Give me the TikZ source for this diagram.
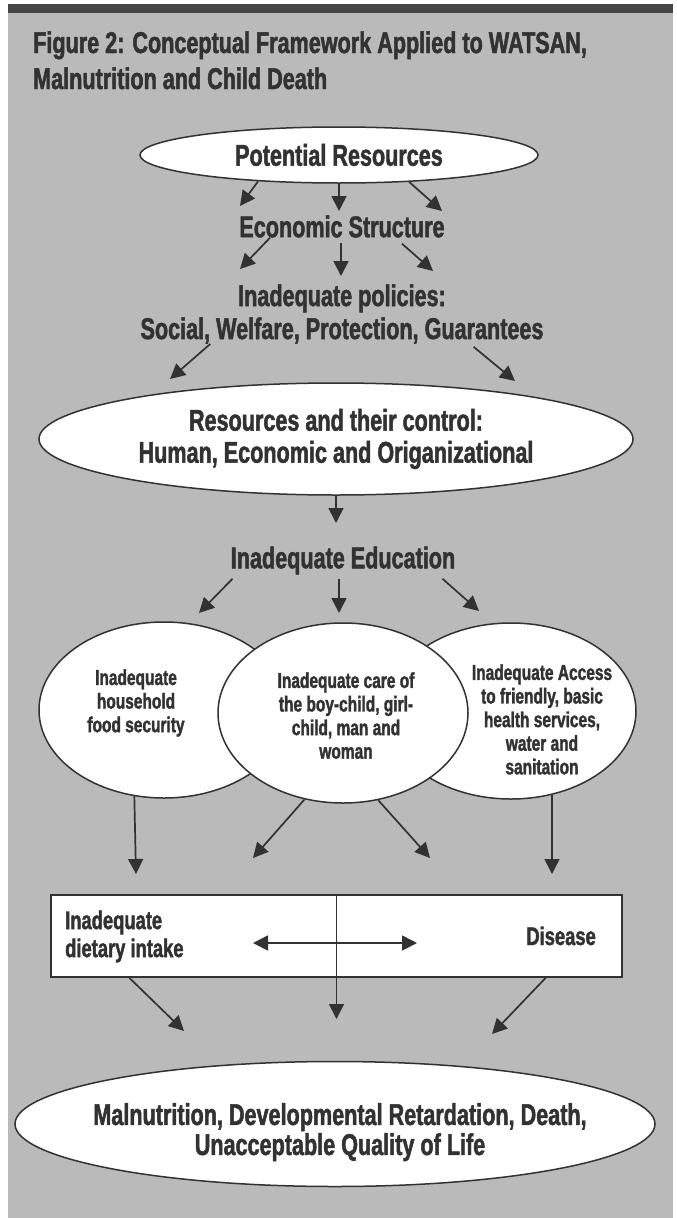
\documentclass[tikz,border=0pt]{standalone}
\usepackage{fontspec}
\newfontfamily\cf[FakeStretch=0.72,FakeBold=1.6]{Liberation Sans}
\usetikzlibrary{arrows.meta,shapes.geometric,calc}
\definecolor{bgc}{RGB}{186,186,186}
\definecolor{barc}{RGB}{70,70,70}
\definecolor{inkc}{RGB}{50,50,50}
\newcommand\myfs[2]{\fontsize{#1}{#2}\selectfont}
\tikzset{
  txt/.style={font=\cf\bfseries, text=inkc, inner sep=0pt, align=center},
  big/.style={font=\cf\bfseries\myfs{30}{33}},
  small/.style={font=\cf\bfseries\myfs{21.5}{23.6}},
  oval/.style={ellipse, draw=inkc, fill=white, line width=1.5pt, inner sep=0pt},
  arr/.style={draw=inkc, line width=1.7pt, -{Triangle[length=15pt,width=15pt]}},
  darr/.style={draw=inkc, line width=1.7pt, {Triangle[length=15pt,width=15pt]}-{Triangle[length=15pt,width=15pt]}},
}
\begin{document}
\begin{tikzpicture}[x=1pt,y=-1pt]
\useasboundingbox (0,0) rectangle (677,1218);
\fill[white] (0,0) rectangle (677,1218);
\fill[bgc] (8,4) rectangle (673,1218);
\fill[barc] (8,4) rectangle (673,13);

% title
\node[txt, big, anchor=base west] (title1) at (33,53) {Figure 2: Conceptual Framework Applied to WATSAN,};
\node[txt, big, anchor=base west] (title2) at (33,89) {Malnutrition and Child Death};

% top chain
\node[oval, minimum width=398pt, minimum height=56pt, txt, big] (pr) at (339,155) {Potential Resources};
\node[txt, big] (es) at (342,226.5) {Economic Structure};
\node[txt, big] (pol) at (342,314) {Inadequate policies:\\Social, Welfare, Protection, Guarantees};
\node[oval, minimum width=594pt, minimum height=112pt, txt, font=\cf\bfseries\myfs{30}{32}] (res) at (336,439) {Resources and their control:\\Human, Economic and Origanizational};
\node[txt, big] (edu) at (343,560.5) {Inadequate Education};

% three circles
\node[oval, minimum width=250pt, minimum height=176pt] (c1) at (164,710) {};
\node[oval, minimum width=250pt, minimum height=176pt] (c3) at (511,711) {};
\node[txt, small] (t1) at (136,703) {Inadequate\\household\\food security};
\node[txt, small] (t3) at (542,719.4) {Inadequate Access\\to friendly, basic\\health services,\\water and\\sanitation};
\node[oval, minimum width=250pt, minimum height=180pt] (c2) at (343,713) {};
\node[txt, small] (t2) at (346,715.6) {Inadequate care of\\the boy-child, girl-\\child, man and\\woman};

% box
\node[draw=inkc, fill=white, line width=1.5pt, minimum width=571pt, minimum height=82pt, inner sep=0pt] (box) at (336.5,936) {};
\node[txt, font=\cf\bfseries\myfs{25.5}{28}, align=left, anchor=north west] (diet) at (65,910.4) {Inadequate\\dietary intake};
\node[txt, font=\cf\bfseries\myfs{25.5}{28}, anchor=base east] (dis) at (596,945) {Disease};

% final
\node[oval, minimum width=640pt, minimum height=125pt] (fin) at (335,1124) {};
\node[txt, font=\cf\bfseries\myfs{30}{30}] (fint) at (340,1132.2) {Malnutrition, Developmental Retardation, Death,\\Unacceptable Quality of Life};

% free arrow ends
\coordinate (a1) at (240,206);
\coordinate (a2) at (339,211);
\coordinate (a3) at (442,211);
\coordinate (b1) at (240,269);
\coordinate (b2) at (341,276);
\coordinate (b3) at (433,271);
\coordinate (p1) at (170,379);
\coordinate (p2) at (515,381);
\coordinate (r1) at (336,523);
\coordinate (e1) at (199,613);
\coordinate (e2) at (339,613);
\coordinate (e3) at (479,611);
\coordinate (k1) at (136,874);
\coordinate (k2) at (253,858);
\coordinate (k3) at (430,858);
\coordinate (k4) at (552,874);
\coordinate (dl) at (253,943);
\coordinate (dr) at (417,943);
\coordinate (m1) at (184,1031);
\coordinate (m2) at (336.5,1019);
\coordinate (m3) at (492,1034);

% arrows
\draw[arr] (pr.198.9) -- (a1);
\draw[arr] (pr.south) -- (a2);
\draw[arr] (pr.339.2) -- (a3);
\draw[arr] ($(es.south)+(-72,0)$) -- (b1);
\draw[arr] ($(es.south)+(-1,5)$) -- (b2);
\draw[arr] ($(es.south)+(60,6)$) -- (b3);
\draw[arr] ($(pol.south west)+(70,0)$) -- (p1);
\draw[arr] ($(pol.south east)+(-70,3)$) -- (p2);
\draw[arr] (res.south) -- (r1);
\draw[arr] ($(edu.south west)+(2,4)$) -- (e1);
\draw[arr] ($(edu.south)+(-4,4)$) -- (e2);
\draw[arr] ($(edu.south east)+(-13,4)$) -- (e3);
\draw[arr] (c1.251.9) -- (k1);
\draw[arr] (c2.246.1) -- (k2);
\draw[arr] (c2.292.1) -- (k3);
\draw[arr] (c3.296.3) -- (k4);
\draw[darr] (dl) -- (dr);
\draw[arr] (box.north) -- (m2);
\draw[arr] ($(box.south west)+(79,0)$) -- (m1);
\draw[arr] ($(box.south east)+(-77,0)$) -- (m3);
\end{tikzpicture}
\end{document}
